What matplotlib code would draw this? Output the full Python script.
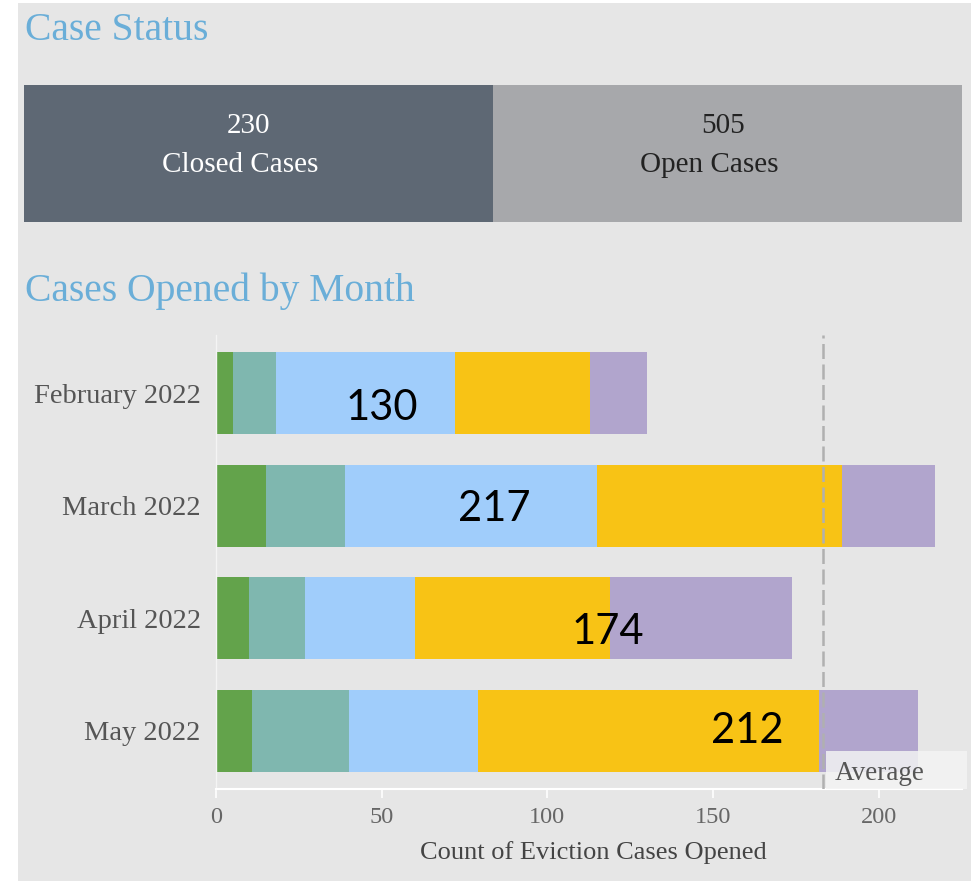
import matplotlib
matplotlib.use('Agg')
import matplotlib.pyplot as plt
import numpy as np
from matplotlib.patches import Rectangle

# ---------------- data ----------------
months = ["February 2022", "March 2022", "April 2022", "May 2022"]
seg1 = [5, 15, 10, 11]
seg2 = [13, 24, 17, 29]
seg3 = [54, 76, 33, 39]
seg4 = [41, 74, 59, 103]
seg5 = [17, 28, 55, 30]
closed_cases = 230
open_cases = 505
card_labels = ["Closed Cases", "Open Cases"]
xticks = [0, 50, 100, 150, 200]

# ---------------- styles ----------------
seg_colors = ['#63a34b', '#7fb7af', '#a0cdfb', '#f8c315', '#b1a5cd']
card_colors = ['#5e6874', '#a7a8ab']
SERIF = ['Liberation Serif', 'DejaVu Serif']
BG = '#e6e6e6'
TITLE_C = '#6aaed8'

W, H = 971, 881
fig = plt.figure(figsize=(W / 100, H / 100), dpi=100, facecolor='white')


def fx(x):
    return x / W


def fy(y):
    return 1 - y / H


fig.patches.append(Rectangle((fx(18), 0), 1 - fx(18), fy(3), transform=fig.transFigure,
                             facecolor=BG, edgecolor='none', zorder=-10))

# titles
fig.text(fx(25), fy(40), 'Case Status', fontsize=28.5, color=TITLE_C, family=SERIF, va='baseline')
fig.text(fx(25), fy(301), 'Cases Opened by Month', fontsize=28.5, color=TITLE_C, family=SERIF, va='baseline')

# ---------------- cards ----------------
ax0 = fig.add_axes([fx(24), fy(222), fx(962) - fx(24), (222 - 85) / H])
ax0.bar([0, 1], [1, 1], width=1, color=card_colors, edgecolor='none')
ax0.set_xlim(-0.5, 1.5)
ax0.set_ylim(0, 1)
ax0.axis('off')
card_values = [closed_cases, open_cases]
num_x = [248, 723]
lab_x = [240, 709]
txt_colors = ['white', '#222222']
for i in range(2):
    fig.text(fx(num_x[i]), fy(126), str(card_values[i]), fontsize=21, family=SERIF,
             color=txt_colors[i], ha='center', va='center')
    fig.text(fx(lab_x[i]), fy(172), card_labels[i], fontsize=21, family=SERIF,
             color=txt_colors[i], ha='center', va='baseline')

# ---------------- stacked bars ----------------
PX_PER_UNIT = 3.313
ax = fig.add_axes([fx(216), fy(789), fx(962) - fx(216), (789 - 335) / H])
ax.set_facecolor('none')
y = np.arange(len(months))
segs = [seg1, seg2, seg3, seg4, seg5]
left = np.zeros(len(months))
for s, c in zip(segs, seg_colors):
    ax.barh(y, s, left=left, height=0.73, color=c, edgecolor='none', zorder=2)
    left += np.array(s)
totals = left
avg = totals.mean()

ax.set_xlim(0, (962 - 216) / PX_PER_UNIT)
ax.set_ylim(3.515, -0.515)

ax.set_yticks(y)
ax.set_yticklabels(months, fontsize=20.5, family=SERIF, color='#555555')
ax.tick_params(axis='y', length=0, pad=11)
ax.set_xticks(xticks)
ax.set_xticklabels([str(t) for t in xticks], fontsize=17.5, family=SERIF, color='#666666')
ax.tick_params(axis='x', length=6.5, width=1.2, color='white', pad=6.5)
for sp in ['top', 'right']:
    ax.spines[sp].set_visible(False)
ax.spines['bottom'].set_color('white')
ax.spines['bottom'].set_linewidth(1.5)
ax.spines['left'].set_color('#f4f4f4')
ax.spines['left'].set_linewidth(1.0)

# average line
ax.axvline(avg, color='#b0b0b0', lw=1.8, dashes=(6, 2.2), zorder=3)
ax.add_patch(Rectangle((avg + 1, 3.515 - 0.337), 42.3, 0.337, facecolor='#f3f3f3',
                       edgecolor='none', alpha=0.85, zorder=4, clip_on=False))
ax.text(avg + 3.6, 3.515 - 0.14, 'Average', fontsize=19.5, family=SERIF, color='#555555',
        ha='left', va='center', zorder=5)

# total annotations
label_x = [50, 84, 118.3, 160.5]
label_dy = [0.135, 0.03, 0.125, 0.0]
for i, t in enumerate(totals):
    ax.text(label_x[i], y[i] + label_dy[i], f'{int(t)}', fontsize=30, family=['Lato', 'DejaVu Sans'],
            color='black', ha='center', va='center', zorder=6)

fig.text(fx(593), fy(853), 'Count of Eviction Cases Opened', fontsize=19, family=SERIF,
         color='#444444', ha='center', va='center')

fig.savefig('out.png', dpi=100, facecolor='white')
